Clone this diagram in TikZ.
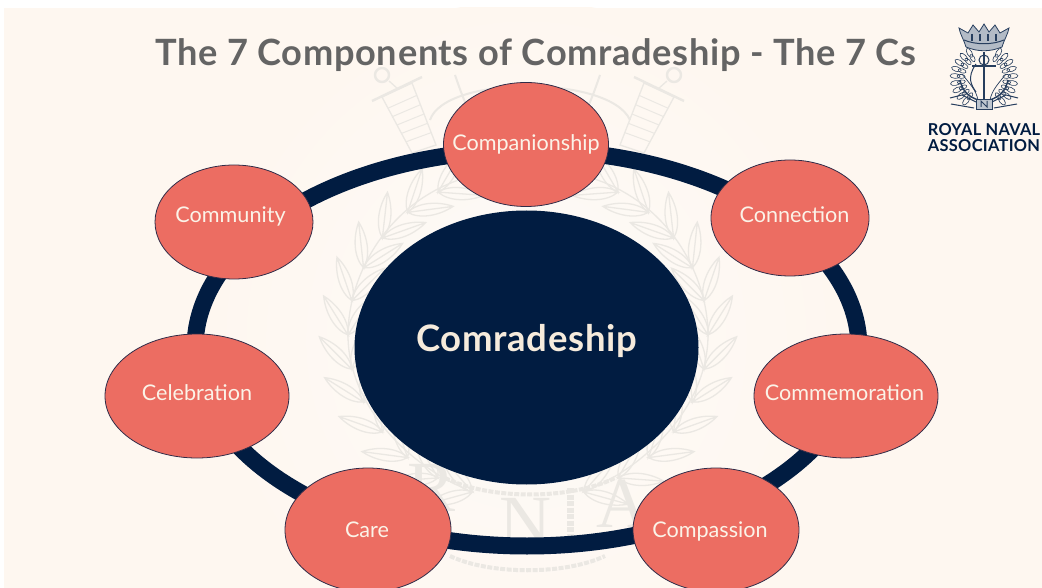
\documentclass[tikz,border=0pt]{standalone}
\usepackage{fontspec}
\setmainfont{Lato}
\newfontfamily\titlefont[LetterSpace=1.8]{Lato}
\newfontfamily\wmserif{Liberation Serif}
\usetikzlibrary{shapes.geometric,calc}
\definecolor{cream}{HTML}{FEF7F0}
\definecolor{paleback}{HTML}{FDFBF8}
\definecolor{navy}{HTML}{011C41}
\definecolor{coral}{HTML}{EC6D62}
\definecolor{titlegray}{HTML}{646464}
\definecolor{textcream}{HTML}{FBF3E8}
\definecolor{hubtext}{HTML}{F6EBDC}
\definecolor{wmark}{HTML}{EBE8E3}
% label with an offset from the node centre, taking no room in the node
\newcommand\lbl[3]{\makebox[0pt][c]{\hspace*{#1}\raisebox{\dimexpr-#2-0.36em\relax}[0pt][0pt]{#3}}}
\tikzset{
  cnode/.style={ellipse,draw=navy!80!coral,line width=0.8pt,fill=coral,text=textcream,font=\fontsize{21.6}{24}\selectfont,inner sep=0pt,anchor=center},
  leafw/.style={draw=wmark,line width=1.3pt,fill=none},
  wmline/.style={draw=wmark,line width=2pt},
  wmtext/.style={text=wmark,font=\fontsize{72}{72}\selectfont\wmserif},
  crest/.style={draw=navy!85,line width=0.7pt,fill=none}
}
\begin{document}
\begin{tikzpicture}[x=1pt,y=-1pt]
\useasboundingbox (0,0) rectangle (1042,588);
\fill[white] (0,0) rectangle (1042,588);
\fill[cream] (4,8) rectangle (1042,588);
\begin{scope}
  \clip (4,8) rectangle (1042,588);
  \shade[inner color=paleback,outer color=cream] (526,340) ellipse (320 and 340);
\end{scope}
% watermark: wreath and swords
\foreach \s in {-1,1}{
  \begin{scope}[shift={(528,335)},xscale=\s]
    \draw[leafw] (60,-158) .. controls (140,-135) and (180,-60) .. (180,0) .. controls (180,70) and (120,130) .. (60,155);
    \foreach \t in {-72,-60,...,72}{
      \pgfmathsetmacro\px{180*cos(\t)}
      \pgfmathsetmacro\py{165*sin(\t)}
      \pgfmathsetmacro\ang{atan2(165*cos(\t),180*sin(\t))}
      \foreach \d in {-32,32}{
        \draw[leafw,shift={(\px,\py)},rotate=\ang+\d] (0,0) .. controls (12,-9) and (32,-7) .. (46,0) .. controls (32,7) and (12,9) .. (0,0) -- (46,0);
      }
    }
    % sword
    \draw[leafw] (116,-252) -- (146,-238) -- (116,-182) -- (92,-190) -- cycle;
    \foreach \f in {0.2,0.35,...,0.9}{
      \draw[leafw,line width=1pt] ($(116,-252)!\f!(92,-190)$) -- ($(146,-238)!\f!(116,-182)$);
    }
    \draw[leafw,line width=2.4pt] (106,-258) -- (156,-234);
    \draw[leafw,line width=2.4pt] (146,-260) circle (7);
    \draw[leafw] (139,-254) -- (130,-246);
  \end{scope}
}
\draw[wmline] (430,120) .. controls (445,75) and (610,75) .. (630,120);
\draw[wmline] (455,75) .. controls (462,95) and (470,120) .. (488,140) (600,75) .. controls (593,95) and (585,120) .. (567,140);
\draw[wmline] (505,85) -- (505,125) (528,82) -- (528,125) (550,85) -- (550,125);
\node[wmtext] (wmr) at (432,488) {R};
\node[wmtext] (wmn) at (525,522) {N};
\node[wmtext] (wma) at (622,504) {A};
\draw[wmark,line width=7pt,dash pattern=on 5pt off 1.5pt] (570,488) -- (570,545);
\draw[wmark,line width=4pt,dash pattern=on 5pt off 1.5pt] (445,478) .. controls (490,500) and (570,500) .. (615,478);
\draw[wmark,line width=4pt,dash pattern=on 5pt off 1.5pt] (450,556) .. controls (490,575) and (565,575) .. (605,556);
% ring and centre
\node[ellipse,draw=navy,line width=17pt,minimum width=664pt,minimum height=396pt,inner sep=0pt] (ring) at (527,348) {};
\node[ellipse,fill=navy,minimum width=344pt,minimum height=274pt,inner sep=0pt,text=hubtext,font=\titlefont\bfseries\fontsize{36.5}{38}\selectfont] (hub) at (526.5,347.5) {\lbl{0pt}{-9pt}{Comradeship}};
% satellites
\node[cnode,minimum width=165pt,minimum height=124pt] (companionship) at (526,144.5) {\lbl{0pt}{-2pt}{Companionship}};
\node[cnode,minimum width=158pt,minimum height=116pt] (connection) at (790,218) {\lbl{9pt}{-3pt}{Connection}};
\node[cnode,minimum width=184pt,minimum height=124pt] (commemoration) at (846,396) {\lbl{-3pt}{-3pt}{Commemoration}};
\node[cnode,minimum width=166pt,minimum height=124pt] (compassion) at (716,530) {\lbl{-12pt}{0pt}{Compassion}};
\node[cnode,minimum width=166pt,minimum height=124pt] (care) at (368,530) {\lbl{-2pt}{0pt}{Care}};
\node[cnode,minimum width=184pt,minimum height=124pt] (celebration) at (197,396) {\lbl{0pt}{-3pt}{Celebration}};
\node[cnode,minimum width=158pt,minimum height=114pt] (community) at (234,222) {\lbl{-7pt}{-7pt}{Community}};
% title
\node[text=titlegray,font=\titlefont\bfseries\fontsize{36.2}{38}\selectfont] (title) at (535.5,55) {The 7 Components of Comradeship - The 7 Cs};
% logo
\begin{scope}[shift={(984,78)}]
  % wreath
  \foreach \a in {-52,-38,...,60,120,134,...,232}{
    \draw[crest,rotate=\a,line width=0.6pt] (29,0) ellipse (5 and 2.4);
    \draw[crest,rotate=\a,line width=0.6pt] (23,0) ellipse (4 and 2);
  }
  % anchor
  \draw[crest,line width=1.6pt] (0,-26) -- (0,24);
  \draw[crest,line width=1.4pt] (-12,-12) -- (12,-12);
  \draw[crest,line width=1pt] (0,-18) circle (5);
  \draw[crest,line width=1.4pt] (-24,2) .. controls (-20,20) and (-8,20) .. (0,25) .. controls (8,20) and (20,20) .. (24,2);
  \draw[crest,line width=1pt] (-8,-14) .. controls (-18,0) and (-12,8) .. (-8,14);
  % sails
  \draw[crest] (-22,-4) .. controls (-14,6) and (-8,12) .. (-6,22);
  \draw[crest] (22,-4) .. controls (14,6) and (8,12) .. (6,22);
  % crown
  \draw[crest,fill=navy!30,line width=0.8pt] (-18,-31) .. controls (-20,-38) and (-24,-44) .. (-25,-50) -- (-16,-45) -- (-11,-53) -- (-5,-46) -- (0,-54) -- (5,-46) -- (11,-53) -- (16,-45) -- (25,-50) .. controls (24,-44) and (20,-38) .. (18,-31) .. controls (6,-26) and (-6,-26) .. (-18,-31);
  \draw[crest,line width=1pt] (-20,-38) .. controls (-8,-33) and (8,-33) .. (20,-38);
  \foreach \x in {-12,-4,4,12}{\draw[crest,line width=1.1pt] (\x,-44) -- (\x,-37);}
  % ribbon and letter box
  \draw[crest,line width=1pt] (-34,20) -- (-22,17) -- (-8,24) (34,20) -- (22,17) -- (8,24);
  \draw[crest,line width=1pt] (-33,26) -- (-10,30) (33,26) -- (10,30);
  \draw[crest,fill=navy!25,line width=0.9pt] (-8,21) rectangle (8,31);
  \draw[crest,line width=1pt] (-3,29) -- (-3,23) -- (3,29) -- (3,23);
\end{scope}
\node[text=navy,font=\titlefont\bfseries\fontsize{16.4}{15.5}\selectfont,align=center] (logotext) at (984,137.5) {ROYAL NAVAL\\[0pt]ASSOCIATION};
\end{tikzpicture}
\end{document}
